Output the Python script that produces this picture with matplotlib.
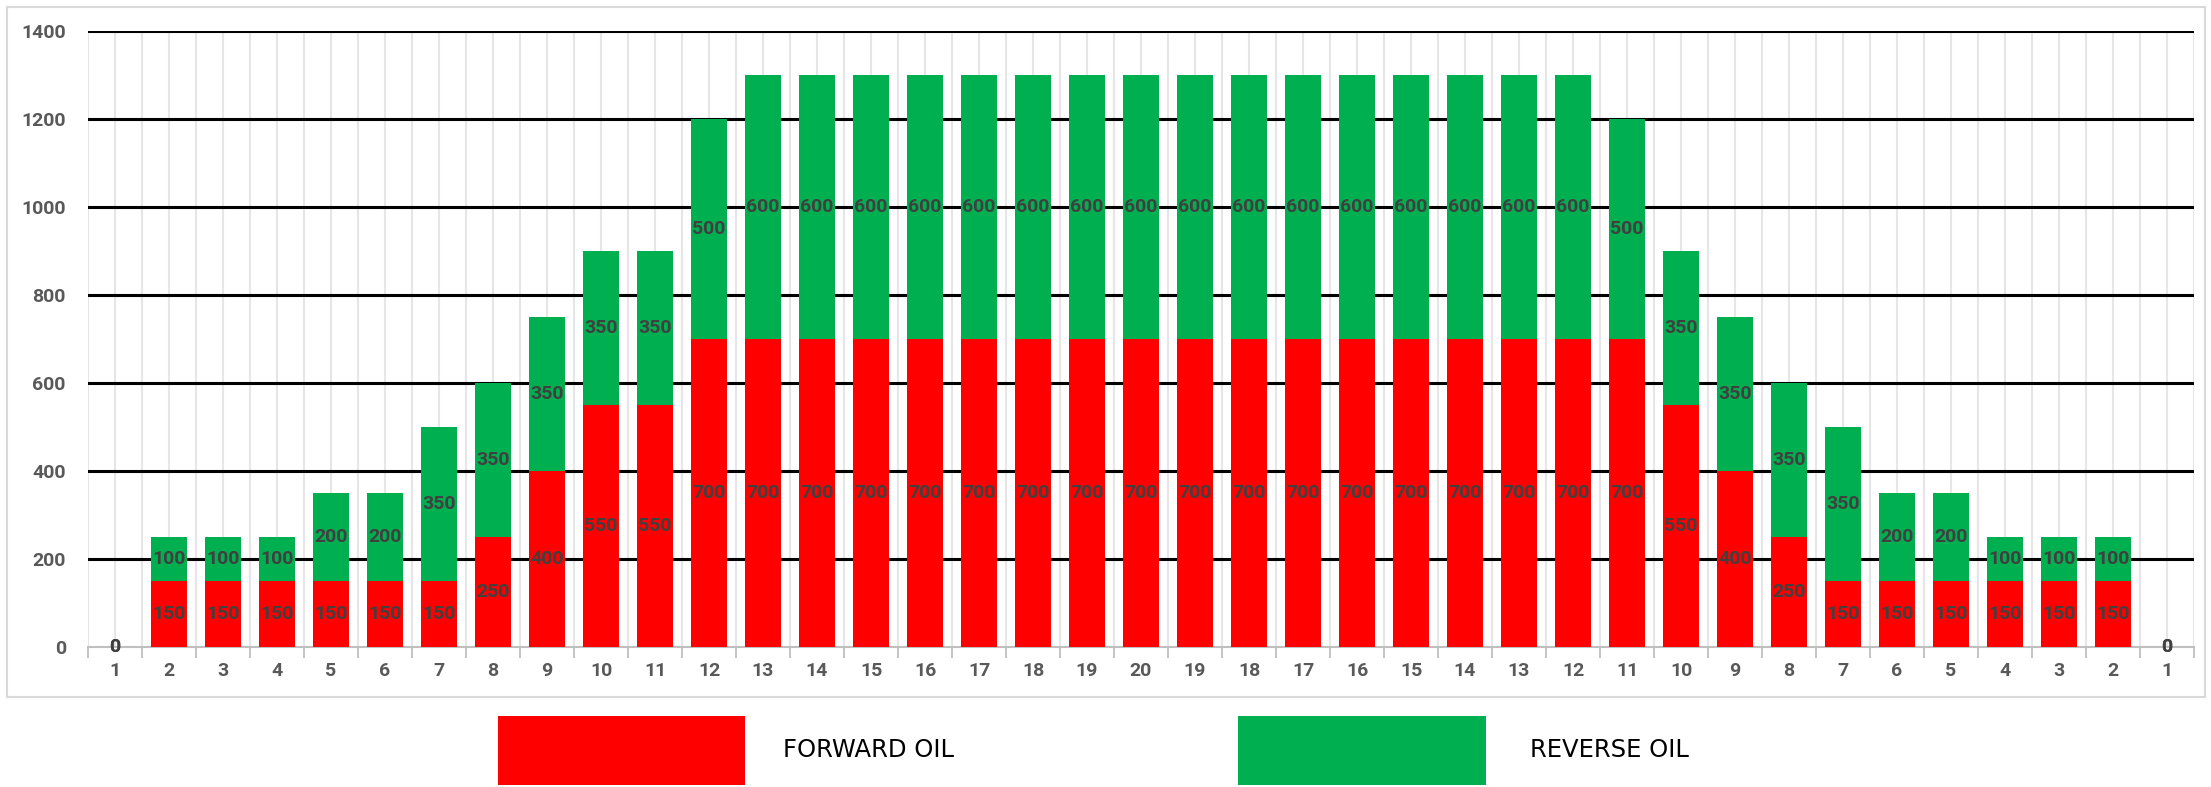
import matplotlib
matplotlib.use('Agg')
import matplotlib.pyplot as plt
from matplotlib.patches import Rectangle
import numpy as np

categories = ['1', '2', '3', '4', '5', '6', '7', '8', '9', '10', '11', '12', '13', '14',
              '15', '16', '17', '18', '19', '20', '19', '18', '17', '16', '15', '14', '13',
              '12', '11', '10', '9', '8', '7', '6', '5', '4', '3', '2', '1']
forward_oil = [0, 150, 150, 150, 150, 150, 150, 250, 400, 550, 550, 700, 700, 700,
               700, 700, 700, 700, 700, 700, 700, 700, 700, 700, 700, 700, 700,
               700, 700, 550, 400, 250, 150, 150, 150, 150, 150, 150, 0]
reverse_oil = [0, 100, 100, 100, 200, 200, 350, 350, 350, 350, 350, 500, 600, 600,
               600, 600, 600, 600, 600, 600, 600, 600, 600, 600, 600, 600, 600,
               600, 500, 350, 350, 350, 350, 200, 200, 100, 100, 100, 0]
series_names = ['FORWARD OIL', 'REVERSE OIL']
series_colors = ['#FF0000', '#00B050']

label_font = ['Roboto', 'DejaVu Sans']

W, H = 2211, 787
fig = plt.figure(figsize=(W / 100, H / 100), dpi=100)
ax = fig.add_axes([88 / W, 1 - 647 / H, (2194 - 88) / W, (647 - 31) / H])

x = np.arange(len(categories))
b1 = ax.bar(x, forward_oil, width=0.667, color=series_colors[0], zorder=3)
b2 = ax.bar(x, reverse_oil, width=0.667, bottom=forward_oil, color=series_colors[1], zorder=3)
for c in (b1, b2):
    ax.bar_label(c, label_type='center', color='#404040', fontsize=14,
                 fontweight='bold', family=label_font, zorder=4)

ax.set_xlim(-0.5, len(categories) - 0.5)
ax.set_ylim(0, 1400)
ax.set_yticks(np.arange(0, 1401, 200))
ax.set_xticks(x)
ax.set_xticklabels(categories)
ax.set_xticks(np.arange(-0.5, len(categories), 1), minor=True)

# gridlines: black horizontal, light grey vertical at centres and boundaries
for yv in np.arange(200, 1401, 200):
    ax.axhline(yv, color='black', lw=2.2, zorder=1)
ax.grid(axis='x', which='both', color='#e6e6e6', lw=1.5, zorder=0)
ax.set_axisbelow(True)

for s in ['top', 'right', 'left']:
    ax.spines[s].set_visible(False)
ax.spines['bottom'].set_color('#bfbfbf')
ax.spines['bottom'].set_linewidth(1.5)
ax.spines['bottom'].set_zorder(2)

ax.tick_params(axis='y', length=0, pad=16, labelsize=14, labelcolor='#595959')
ax.tick_params(axis='x', which='major', length=0, pad=11, labelsize=14, labelcolor='#595959')
ax.tick_params(axis='x', which='minor', length=8, width=1.3, color='#bfbfbf')
for lab in ax.get_xticklabels() + ax.get_yticklabels():
    lab.set_fontweight('bold')
    lab.set_family(label_font)

# chart border
fig.add_artist(Rectangle((7 / W, 1 - 697 / H), (2205 - 7) / W, (697 - 7) / H,
                         transform=fig.transFigure, fill=False, ec='#d9d9d9', lw=1.5))

# legend
legend_boxes = [(498, 745, 783), (1238, 1486, 1530)]
for (x0, x1, tx), name, col in zip(legend_boxes, series_names, series_colors):
    fig.add_artist(Rectangle((x0 / W, 1 - 785 / H), (x1 - x0) / W, (785 - 716) / H,
                             transform=fig.transFigure, color=col, lw=0))
    fig.text(tx / W, 1 - 750 / H, name, fontsize=17.5, color='black', va='center',
             ha='left', family='DejaVu Sans')

fig.savefig('out.png', dpi=100)
